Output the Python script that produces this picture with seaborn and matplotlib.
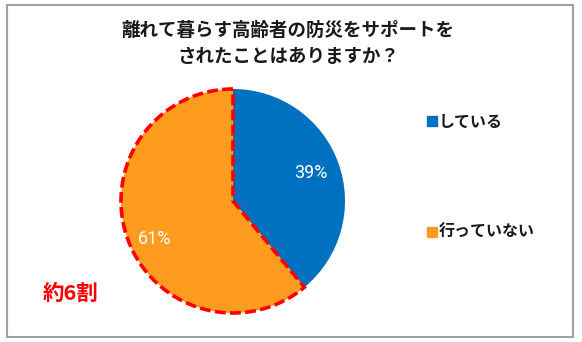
import matplotlib
matplotlib.use("Agg")
import matplotlib.pyplot as plt
from matplotlib.patches import Rectangle
from matplotlib.lines import Line2D
import seaborn as sns

# Survey answers and shares (%)
categories = ["している", "行っていない"]
shares = [39, 61]
colors = ["#0070C0", "#FF9B1F"]
title_lines = ["離れて暮らす高齢者の防災をサポートを", "されたことはありますか？"]
callout = "約6割"

sns.set_theme(style="white")
plt.rcParams["font.family"] = ["Noto Sans CJK JP", "DejaVu Sans"]

W, H = 582, 342
fig = plt.figure(figsize=(W / 100, H / 100), dpi=100)
fig.patch.set_facecolor("white")

# outer frame
fig.add_artist(Rectangle((7 / W, 5 / H), 566 / W, 332 / H, transform=fig.transFigure,
                         fill=False, edgecolor="#A0A0A0", linewidth=1.5))

# pie axes: centre (233, 201) px, radius 112 px
cx, cy, r = 233, 201, 112
ax = fig.add_axes([(cx - r) / W, (H - cy - r) / H, 2 * r / W, 2 * r / H])
wedges, texts, autotexts = ax.pie(
    shares, colors=colors, startangle=90, counterclock=False,
    autopct="%d%%", pctdistance=0.74,
    wedgeprops=dict(linewidth=0),
    textprops=dict(color="white", fontsize=13, family=["Roboto", "DejaVu Sans"]),
)
ax.set_xlim(-1, 1)
ax.set_ylim(-1, 1)
ax.set_aspect("equal")
for w in wedges:
    w.set_clip_on(False)

# dashed red outline around the majority slice
wedges[1].set_edgecolor("#FF0000")
wedges[1].set_linewidth(2.6)
wedges[1].set_linestyle((0, (3.0, 1.2)))
autotexts[1].set_position((-0.70, -0.34))

# title
fig.text(288 / W, 1 - 30 / H, title_lines[0], ha="center", va="center",
         fontsize=13.3, fontweight="bold", color="#1a1a1a")
fig.text(288 / W, 1 - 57 / H, title_lines[1], ha="center", va="center",
         fontsize=13.3, fontweight="bold", color="#1a1a1a")

# legend
handles = [Line2D([], [], marker="s", linestyle="none", markersize=6.5,
                  markerfacecolor=c, markeredgecolor=c) for c in colors]
fig.legend(handles, categories, loc="upper left",
           bbox_to_anchor=(427 / W, 1 - 114 / H), frameon=False,
           prop=dict(size=11.5, weight="bold"), handlelength=0.6,
           handletextpad=0.15, labelspacing=5.9, borderaxespad=0,
           borderpad=0, labelcolor="#1a1a1a")

# callout
fig.text(71 / W, 1 - 293 / H, callout, ha="center", va="center",
         fontsize=15.5, fontweight="bold", color="#FF0000")

fig.savefig("out.png", dpi=100, facecolor="white")
